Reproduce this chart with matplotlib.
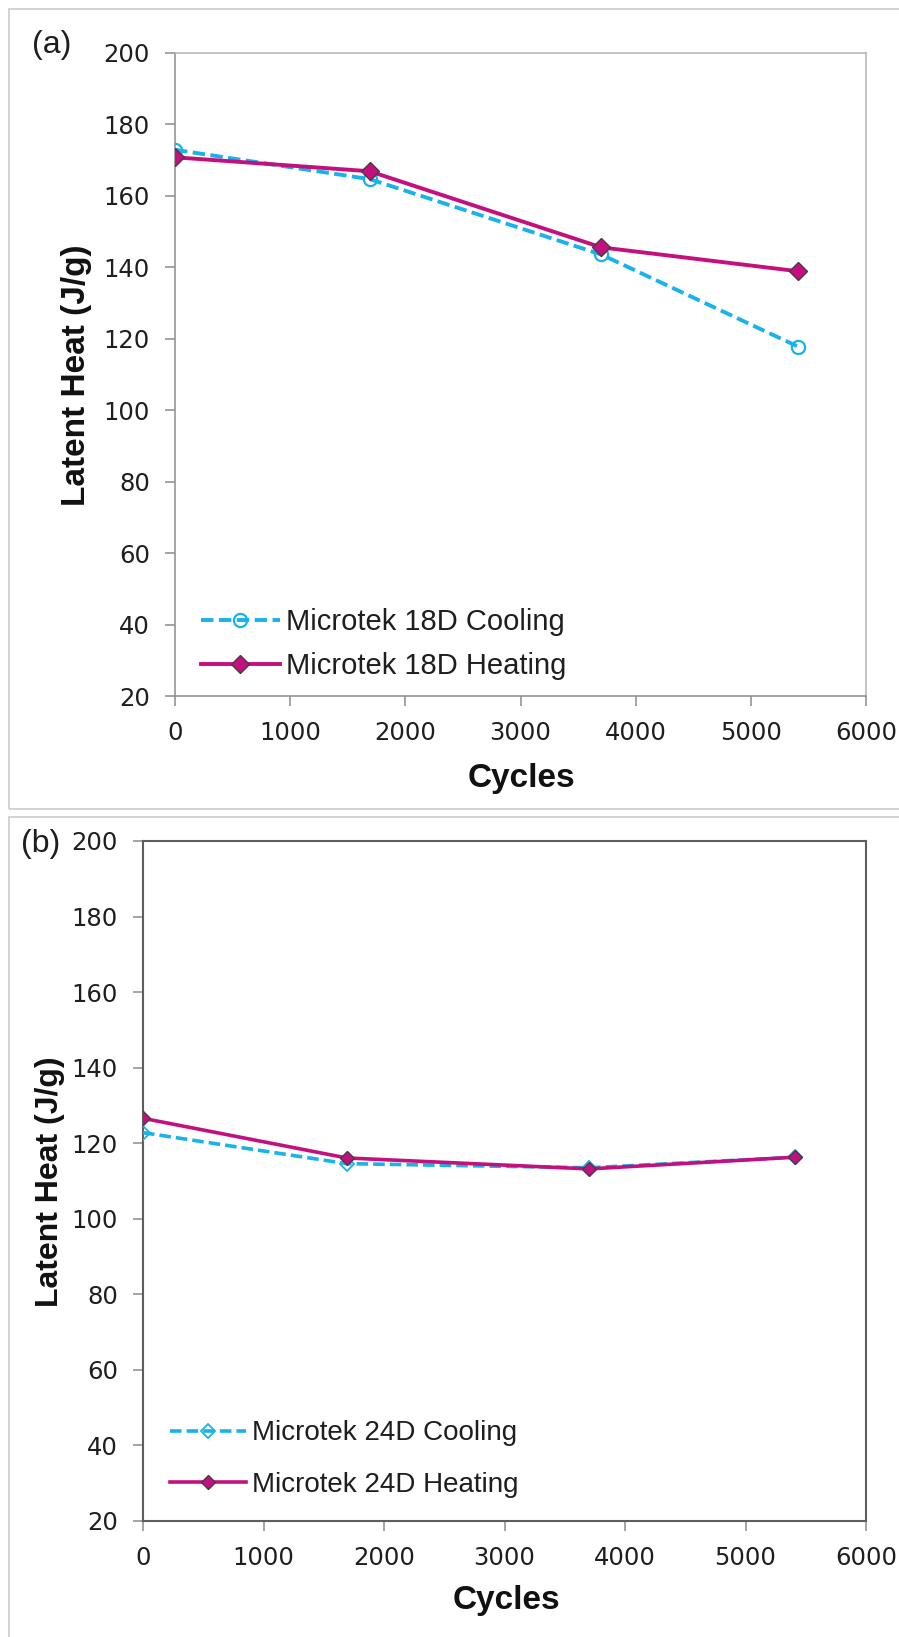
import matplotlib
matplotlib.use("Agg")
import matplotlib.pyplot as plt
from matplotlib.patches import Rectangle

plt.rcParams["font.family"] = ["Liberation Sans", "DejaVu Sans"]

# data
cycles = [0, 1690, 3700, 5410]
a_cool = [172.9, 164.7, 143.6, 117.8]
a_heat = [170.8, 166.9, 145.6, 138.9]
b_cool = [122.8, 114.6, 113.5, 116.3]
b_heat = [126.6, 116.1, 113.2, 116.3]
yticks = list(range(20, 201, 20))
xticks = list(range(0, 6001, 1000))

CYAN = "#19B2EC"
MAG = "#C4107F"
W, H = 899, 1637

def fx(px): return px / W
def fy(py): return 1 - py / H

fig = plt.figure(figsize=(W / 100, H / 100), dpi=100)
# panel frames
fig.patches.append(Rectangle((fx(9), fy(809)), 1.0, fy(9) - fy(809), transform=fig.transFigure,
                             fill=False, edgecolor="#CFCFCF", lw=1.3))
fig.patches.append(Rectangle((fx(9), fy(1650)), 1.0, fy(817) - fy(1650), transform=fig.transFigure,
                             fill=False, edgecolor="#CFCFCF", lw=1.3))

def style(ax, spine_lr, spine_tr, sw):
    ax.set_xlim(0, 6000); ax.set_ylim(20, 200)
    ax.set_xticks(xticks); ax.set_yticks(yticks)
    for s in ("left", "bottom"):
        ax.spines[s].set_color(spine_lr); ax.spines[s].set_linewidth(sw)
    for s in ("top", "right"):
        ax.spines[s].set_color(spine_tr); ax.spines[s].set_linewidth(sw)
    ax.tick_params(direction="out", length=7, width=1.1, color="#8C8C8C",
                   labelsize=17.5, labelcolor="#1E1E1E", pad=11,
                   top=False, right=False)
    for lab in ax.get_xticklabels() + ax.get_yticklabels():
        lab.set_family("DejaVu Sans")
    ax.patch.set_facecolor("white")

# ---- (a)
axa = fig.add_axes([fx(175), fy(696), fx(866) - fx(175), fy(53) - fy(696)])
style(axa, "#8C8C8C", "#B4B4B4", 1.1)
axa.plot(cycles, a_cool, color=CYAN, lw=2.8, ls=(0, (3.2, 1.4)), marker="o", ms=9.5,
         mfc="none", mec=CYAN, mew=1.6, label="Microtek 18D Cooling", zorder=3)
axa.plot(cycles, a_heat, color=MAG, lw=2.8, marker="D", ms=9.5, mfc=MAG,
         mec="#4A3A44", mew=1.0, label="Microtek 18D Heating", zorder=4)
axa.legend(loc="center left", bbox_to_anchor=(fx(201), fy(644)), bbox_transform=fig.transFigure,
           frameon=False, fontsize=21, handlelength=2.7, handletextpad=0.22,
           labelspacing=0.55, borderpad=0, borderaxespad=0, numpoints=1,
           labelcolor="#1E1E1E")
axa.set_ylabel("Latent Heat (J/g)", fontsize=24, fontweight="bold", color="#111111", va="center")
axa.yaxis.set_label_coords(fx(77), fy(375), transform=fig.transFigure)
axa.set_xlabel("Cycles", fontsize=24, fontweight="bold", color="#111111", va="center")
axa.xaxis.set_label_coords(fx(521), fy(779), transform=fig.transFigure)
fig.text(fx(52), fy(45), "(a)", fontsize=23, ha="center", va="center", color="#1E1E1E")

# ---- (b)
axb = fig.add_axes([fx(143), fy(1521), fx(866) - fx(143), fy(841) - fy(1521)])
style(axb, "#5E5E5E", "#5E5E5E", 1.5)
axb.plot(cycles, b_cool, color=CYAN, lw=2.6, ls=(0, (3.2, 1.4)), marker="D", ms=7.5,
         mfc="none", mec=CYAN, mew=1.3, label="Microtek 24D Cooling", zorder=3)
axb.plot(cycles, b_heat, color=MAG, lw=2.6, marker="D", ms=7.5, mfc=MAG,
         mec="#4A3A44", mew=1.0, label="Microtek 24D Heating", zorder=4)
axb.legend(loc="center left", bbox_to_anchor=(fx(170), fy(1459)), bbox_transform=fig.transFigure,
           frameon=False, fontsize=20, handlelength=2.75, handletextpad=0.22,
           labelspacing=0.9, borderpad=0, borderaxespad=0, numpoints=1,
           labelcolor="#1E1E1E")
axb.set_ylabel("Latent Heat (J/g)", fontsize=23, fontweight="bold", color="#111111", va="center")
axb.yaxis.set_label_coords(fx(50), fy(1182), transform=fig.transFigure)
axb.set_xlabel("Cycles", fontsize=24, fontweight="bold", color="#111111", va="center")
axb.xaxis.set_label_coords(fx(506), fy(1601), transform=fig.transFigure)
fig.text(fx(41), fy(844), "(b)", fontsize=23, ha="center", va="center", color="#1E1E1E")

fig.savefig("out.png", dpi=100)
